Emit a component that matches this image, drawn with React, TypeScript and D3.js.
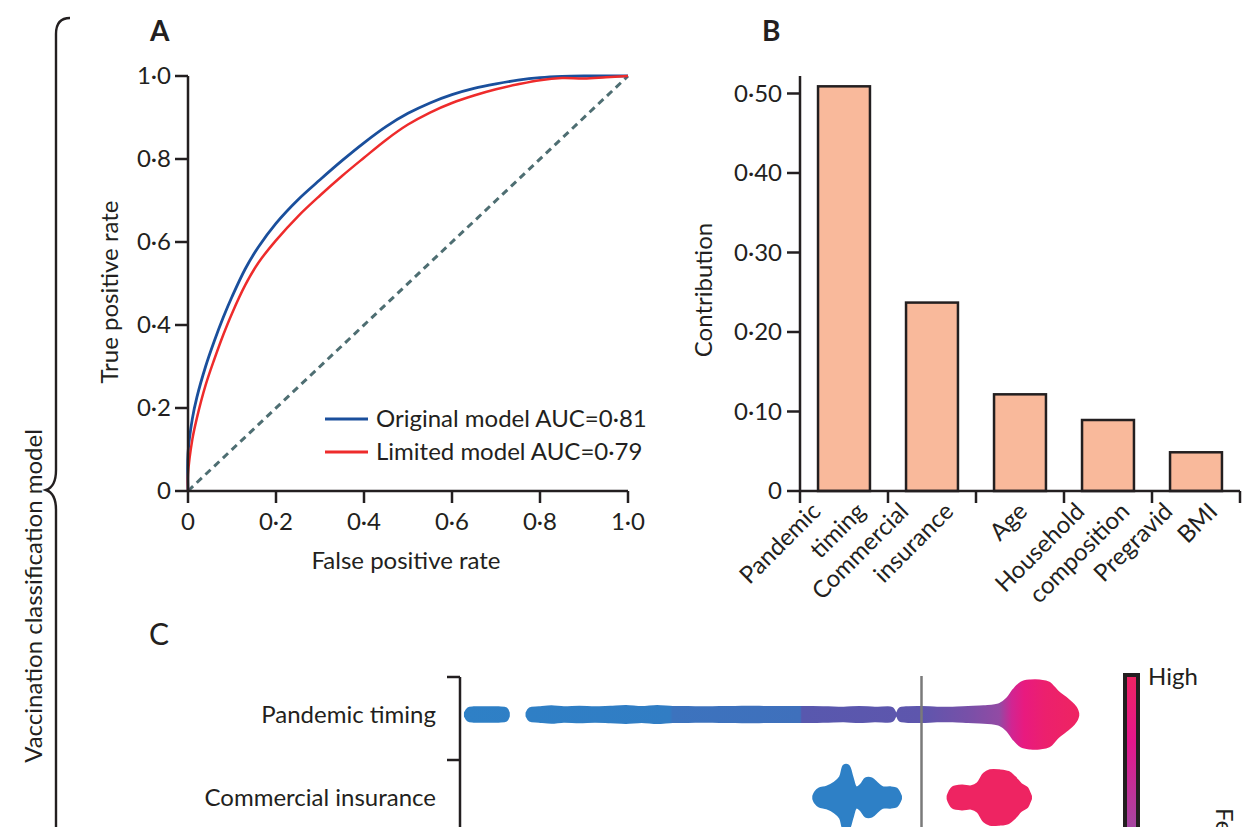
import * as d3 from "d3";

// ---- Panel A: ROC curves ----
const fprOriginal = [0, 0, 0.01, 0.02, 0.04, 0.06, 0.08, 0.1, 0.13, 0.16, 0.2, 0.25, 0.3, 0.35, 0.4, 0.45, 0.5, 0.55, 0.6, 0.65, 0.7, 0.75, 0.8, 0.85, 0.9, 1];
const tprOriginal = [0, 0.09, 0.175, 0.225, 0.3, 0.362, 0.418, 0.468, 0.535, 0.588, 0.645, 0.702, 0.75, 0.796, 0.839, 0.878, 0.91, 0.935, 0.955, 0.97, 0.981, 0.99, 0.996, 0.999, 1, 1];
const fprLimited = [0, 0, 0.01, 0.02, 0.04, 0.06, 0.08, 0.1, 0.13, 0.16, 0.2, 0.25, 0.3, 0.35, 0.4, 0.45, 0.5, 0.55, 0.6, 0.65, 0.7, 0.75, 0.8, 0.85, 0.9, 0.95, 1];
const tprLimited = [0, 0.04, 0.125, 0.175, 0.255, 0.318, 0.376, 0.428, 0.496, 0.55, 0.604, 0.662, 0.712, 0.759, 0.803, 0.846, 0.883, 0.912, 0.935, 0.953, 0.968, 0.98, 0.99, 0.995, 0.994, 0.997, 1];
const rocTicks = [0, 0.2, 0.4, 0.6, 0.8, 1];
const legendLabels = ["Original model AUC=0·81", "Limited model AUC=0·79"];

// ---- Panel B: contribution ----
const features = ["Pandemic timing", "Commercial insurance", "Age", "Household composition", "Pregravid BMI"];
const featureLines = [["Pandemic", "timing"], ["Commercial", "insurance"], ["Age"], ["Household", "composition"], ["Pregravid", "BMI"]];
const contribution = [0.509, 0.237, 0.1216, 0.0893, 0.0487];
const contributionTicks = [0, 0.1, 0.2, 0.3, 0.4, 0.5];

// ---- Panel C: SHAP beeswarm (profile of each swarm: SHAP value, relative spread; null = gap) ----
const swarmFeatures = ["Pandemic timing", "Commercial insurance"];
const pandemicShap = [-1.468, -1.458, -1.44, -1.4, -1.36, -1.335, -1.327, -1.3,
  -1.27, -1.26, -1.23, -1.19, -1.15, -1.1, -1.05, -1.0, -0.95, -0.9, -0.85, -0.8, -0.75, -0.7, -0.65, -0.6, -0.55, -0.5, -0.45, -0.4, -0.35, -0.3, -0.25, -0.2, -0.15, -0.1, -0.092, -0.084, -0.08,
  -0.078, -0.07, -0.05, 0, 0.05, 0.1, 0.15, 0.2, 0.25, 0.275, 0.295, 0.32, 0.35, 0.38, 0.41, 0.44, 0.47, 0.49, 0.5, 0.504];
const pandemicSpread = [0.05, 0.18, 0.21, 0.21, 0.21, 0.18, 0.05, null,
  0.05, 0.18, 0.21, 0.24, 0.21, 0.23, 0.21, 0.23, 0.25, 0.22, 0.25, 0.22, 0.22, 0.21, 0.22, 0.22, 0.23, 0.22, 0.22, 0.22, 0.22, 0.21, 0.2, 0.22, 0.2, 0.21, 0.18, 0.05, null,
  0.05, 0.18, 0.21, 0.22, 0.2, 0.2, 0.22, 0.24, 0.3, 0.47, 0.72, 0.94, 1, 1, 0.94, 0.66, 0.45, 0.28, 0.15, 0.04];
const pandemicColorShap = [-1.47, -0.81, -0.8, -0.39, -0.385, 0, 0.15, 0.25, 0.29, 0.33, 0.4, 0.5];
const pandemicColorValue = [0, 0.02, 0.1, 0.12, 0.3, 0.32, 0.4, 0.48, 0.72, 0.86, 0.95, 1];

const insuranceNoShap = [-0.348, -0.342, -0.33, -0.305, -0.28, -0.262, -0.25, -0.235, -0.222, -0.21, -0.195, -0.18, -0.16, -0.14, -0.125, -0.1, -0.08, -0.072, -0.066];
const insuranceNoSpread = [0.04, 0.16, 0.26, 0.32, 0.44, 0.6, 0.94, 0.94, 0.6, 0.3, 0.38, 0.56, 0.56, 0.4, 0.3, 0.3, 0.26, 0.16, 0.04];
const insuranceYesShap = [0.084, 0.09, 0.1, 0.13, 0.16, 0.18, 0.2, 0.22, 0.25, 0.28, 0.3, 0.32, 0.34, 0.347, 0.352];
const insuranceYesSpread = [0.04, 0.18, 0.3, 0.35, 0.33, 0.42, 0.7, 0.8, 0.8, 0.75, 0.6, 0.4, 0.28, 0.15, 0.04];

const featureValueStops = [0, 0.3, 0.55, 0.8, 1];
const featureValueColors = ["#2e80c6", "#5858ae", "#a844a0", "#e5168c", "#ee2462"];

const fmt = (d: number, digits: number) => (d === 0 ? "0" : d.toFixed(digits).replace(".", "·"));

const INK = "#231f20";
const FONT = "Lato, 'Open Sans', sans-serif";

export default function App() {
  // panel A scales
  const xA = d3.scaleLinear([0, 1], [188, 628]);
  const yA = d3.scaleLinear([0, 1], [491, 76]);
  const line = d3.line<[number, number]>().x((d) => xA(d[0])).y((d) => yA(d[1])).curve(d3.curveCatmullRom.alpha(0.5));
  const original = line(fprOriginal.map((f, i) => [f, tprOriginal[i]]));
  const limited = line(fprLimited.map((f, i) => [f, tprLimited[i]]));

  // panel B scales
  const xB = d3.scaleBand(features, [800, 1240]).paddingInner(0.41).paddingOuter(0.205);
  const yB = d3.scaleLinear([0, 0.522], [491, 76]);
  const step = xB.step();
  const bandStart = (f: string) => (xB(f) as number) - (step * xB.paddingInner()) / 2;

  // panel C scales
  const xC = d3.scaleLinear([-1.5, 0.5], [455, 1077]);
  const yC = d3.scaleBand(swarmFeatures, [677, 843]);
  const spread = d3.scaleLinear([0, 1], [0, 34]);
  const color = d3.scaleLinear<string>(featureValueStops, featureValueColors);
  const swarmCenter = (f: string) => (yC(f) as number) + yC.bandwidth() / 2 - 4;

  const swarmArea = (cy: number) =>
    d3
      .area<[number, number | null]>()
      .defined((d) => d[1] != null)
      .x((d) => xC(d[0]))
      .y0((d) => cy + spread(d[1] as number))
      .y1((d) => cy - spread(d[1] as number))
      .curve(d3.curveCatmullRom.alpha(0.5));

  const [r0, r1] = xC.range();
  const pandemicPath = swarmArea(swarmCenter("Pandemic timing"))(pandemicShap.map((s, i) => [s, pandemicSpread[i]]));
  const noPath = swarmArea(swarmCenter("Commercial insurance"))(insuranceNoShap.map((s, i) => [s, insuranceNoSpread[i]]));
  const yesPath = swarmArea(swarmCenter("Commercial insurance"))(insuranceYesShap.map((s, i) => [s, insuranceYesSpread[i]]));

  const cbTop = 675;
  const cbHeight = 330;
  const cbStops = featureValueStops.map((v, i) => ({ offset: 1 - v, c: featureValueColors[i] })).reverse();

  return (
    <svg
      width={1245}
      height={827}
      style={{ position: "absolute", left: 0, top: 0, background: "#fff", fontFamily: FONT }}
    >
      <defs>
        <linearGradient id="pandemicGrad" gradientUnits="userSpaceOnUse" x1={r0} x2={r1} y1={0} y2={0}>
          {pandemicColorShap.map((s, i) => (
            <stop key={i} offset={(xC(s) - r0) / (r1 - r0)} stopColor={color(pandemicColorValue[i])} />
          ))}
        </linearGradient>
        <linearGradient id="cbGrad" x1={0} x2={0} y1={0} y2={1}>
          {cbStops.map((s, i) => (
            <stop key={i} offset={s.offset} stopColor={s.c} />
          ))}
        </linearGradient>
      </defs>

      {/* left brace */}
      <path d="M70,18 C61,18 56,23 56,34 L56,470 C56,482 52,488 46,490 C52,492 56,498 56,510 L56,830" fill="none" stroke={INK} strokeWidth={2.4} />
      <text transform="translate(42,596) rotate(-90)" textAnchor="middle" fontSize={24} fill={INK}>
        Vaccination classification model
      </text>

      {/* ---------- Panel A ---------- */}
      <text x={150} y={41} fontSize={28} fontWeight="bold" fill={INK}>A</text>
      <line x1={xA(0)} y1={yA(0)} x2={xA(1)} y2={yA(1)} stroke="#4e6e72" strokeWidth={3} strokeDasharray="7 5" />
      <path d={original ?? ""} fill="none" stroke="#1a4f9c" strokeWidth={2.8} />
      <path d={limited ?? ""} fill="none" stroke="#ee2b2b" strokeWidth={2.5} />
      <g stroke={INK} strokeWidth={2.5}>
        <line x1={xA(0)} x2={xA(0)} y1={yA(1)} y2={yA(0)} />
        <line x1={xA(0)} x2={xA(1)} y1={yA(0)} y2={yA(0)} />
        {rocTicks.map((t) => (
          <g key={t}>
            <line x1={xA(0) - 13} x2={xA(0)} y1={yA(t)} y2={yA(t)} />
            <line x1={xA(t)} x2={xA(t)} y1={yA(0)} y2={yA(0) + 12} />
          </g>
        ))}
      </g>
      <g fontSize={24} fill={INK}>
        {rocTicks.map((t) => (
          <text key={"y" + t} x={xA(0) - 17} y={yA(t)} dy="0.35em" textAnchor="end">{fmt(t, 1)}</text>
        ))}
        {rocTicks.map((t) => (
          <text key={"x" + t} x={xA(t)} y={530} textAnchor="middle">{fmt(t, 1)}</text>
        ))}
        <text x={406} y={569} textAnchor="middle">False positive rate</text>
        <text transform="translate(118,292) rotate(-90)" textAnchor="middle">True positive rate</text>
        {legendLabels.map((l, i) => (
          <g key={l}>
            <line x1={325} x2={368} y1={419 + i * 33} y2={419 + i * 33} stroke={i === 0 ? "#1a4f9c" : "#ee2b2b"} strokeWidth={2.8} />
            <text x={376} y={427 + i * 33}>{l}</text>
          </g>
        ))}
      </g>

      {/* ---------- Panel B ---------- */}
      <text x={762} y={41} fontSize={28} fontWeight="bold" fill={INK}>B</text>
      {features.map((f, i) => (
        <rect
          key={f}
          x={xB(f)}
          y={yB(contribution[i])}
          width={xB.bandwidth()}
          height={yB(0) - yB(contribution[i])}
          fill="#f9b99b"
          stroke={INK}
          strokeWidth={2.5}
        />
      ))}
      <g stroke={INK} strokeWidth={2.5}>
        <line x1={800} x2={800} y1={yB(0.522)} y2={yB(0)} />
        <line x1={800} x2={1240} y1={yB(0)} y2={yB(0)} />
        {contributionTicks.map((t) => (
          <line key={t} x1={787} x2={800} y1={yB(t)} y2={yB(t)} />
        ))}
        {features.map((f) => (
          <line key={f} x1={bandStart(f)} x2={bandStart(f)} y1={yB(0)} y2={yB(0) + 12} />
        ))}
        <line x1={bandStart(features[4]) + step} x2={bandStart(features[4]) + step} y1={yB(0)} y2={yB(0) + 12} />
      </g>
      <g fontSize={24} fill={INK}>
        {contributionTicks.map((t) => (
          <text key={t} x={782} y={yB(t)} dy="0.35em" textAnchor="end">{fmt(t, 2)}</text>
        ))}
        {features.map((f, i) => {
          const c = (xB(f) as number) + xB.bandwidth() / 2;
          const lines = featureLines[i];
          const offs = lines.length === 1 ? [0.09] : [-0.26, 0.25];
          return lines.map((l, j) => (
            <text key={l} transform={`translate(${c + offs[j] * step - 11},${501}) rotate(-45)`} textAnchor="end" dy="0.7em">
              {l}
            </text>
          ));
        })}
        <text transform="translate(712,290) rotate(-90)" textAnchor="middle">Contribution</text>
      </g>

      {/* ---------- Panel C ---------- */}
      <text x={149} y={645} fontSize={30} fill={INK}>C</text>
      <path d={pandemicPath ?? ""} fill="url(#pandemicGrad)" stroke="url(#pandemicGrad)" strokeWidth={2} strokeLinejoin="round" />
      <path d={noPath ?? ""} fill={color(0)} stroke={color(0)} strokeWidth={2} strokeLinejoin="round" />
      <path d={yesPath ?? ""} fill={color(1)} stroke={color(1)} strokeWidth={2} strokeLinejoin="round" />
      <line x1={xC(0)} x2={xC(0)} y1={676} y2={827} stroke="#7a7a7a" strokeWidth={2.5} />
      <g stroke={INK} strokeWidth={2.5}>
        <line x1={460} x2={460} y1={yC.range()[0]} y2={yC.range()[1]} />
        {swarmFeatures.map((f) => (
          <line key={f} x1={447} x2={460} y1={yC(f)} y2={yC(f)} />
        ))}
      </g>
      <g fontSize={24} fill={INK}>
        {swarmFeatures.map((f) => (
          <text key={f} x={436} y={swarmCenter(f)} dy="0.35em" textAnchor="end">{f}</text>
        ))}
      </g>
      <rect x={1125} y={cbTop} width={13} height={cbHeight} fill="url(#cbGrad)" stroke={INK} strokeWidth={4} />
      <text x={1148} y={685} fontSize={24} fill={INK}>High</text>
      <text transform="translate(1216,808) rotate(90)" fontSize={24} fill={INK}>Feature value</text>
    </svg>
  );
}
